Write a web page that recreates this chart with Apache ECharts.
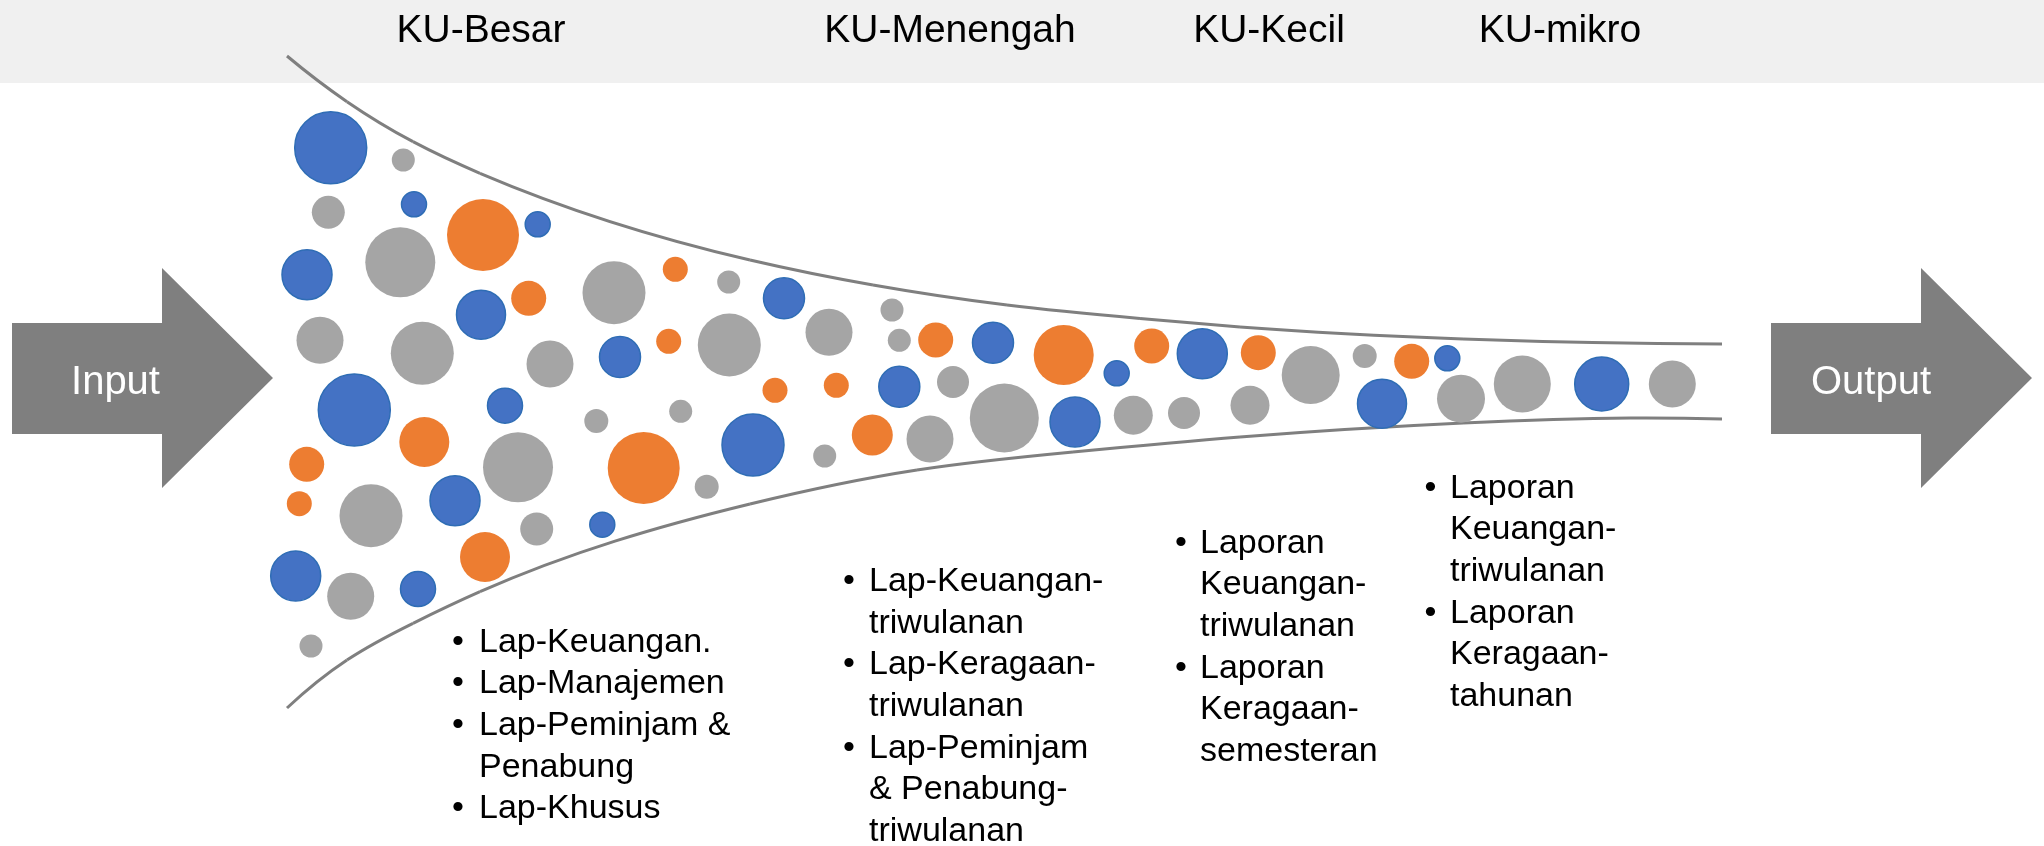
<!DOCTYPE html>
<html>
<head>
<meta charset="utf-8">
<script src="https://cdn.jsdelivr.net/npm/echarts@6/dist/echarts.min.js"></script>
<style>
html,body{margin:0;padding:0;background:#fff;}
#chart{width:2044px;height:846px;}
</style>
</head>
<body>
<div id="chart"></div>
<script>
// ---- data (x, y, diameter) ----
const blueBubbles = [
  [330.7,147.7,72],[414,204.3,25],[537.7,224.3,25],[307,274.7,50],[784,298.3,41],
  [481,314.7,49],[620,357,41],[993,342.7,41],[1116.7,373.3,25],[1202.3,353.7,50],
  [1447.3,358.3,25],[354.3,410,72],[505,405.7,35],[899.3,386.7,41],[753,445,62],
  [1075,422,50],[1382,403.7,49],[1601.7,384,54],[455,500.7,50],[602.3,524.7,25],
  [295.7,576,50],[418,589,35]
];
const orangeBubbles = [
  [483,235,72],[675.3,269.3,25],[528.7,298.3,35],[668.7,341.3,25],[935.7,340,35],
  [1063.7,355,60],[1151.7,346,35],[1258.3,352.7,35],[1411.7,361.3,35],[775,390.3,25],
  [836.3,385.3,25],[424.3,442,50],[643.7,468,72],[872.3,435,41],[306.7,464.3,35],
  [299.3,503.7,25],[485,557,50]
];
const grayBubbles = [
  [403.3,160,23],[328.3,212.3,33],[400.3,262.3,70],[614,292.7,63],[728.7,282,23],
  [320,340.3,47],[422.3,353.3,63],[550,364,47],[729.3,345,63],[829,332.3,47],
  [892,310,23],[899.3,340.3,23],[1310.7,375,58],[1364.7,356,24],[953,382,32],
  [596.3,421,24],[680.7,411.3,23],[518,467.3,70],[930,439,47],[1004.3,418,69],
  [1133.3,415.3,39],[1184,413,32],[1250,405.3,39],[1461,398.7,48],[1522.3,384,57],
  [1672.3,384,47],[824.7,456,23],[706.7,486.7,24],[371,515.7,63],[536.7,529,33],
  [350.7,596.3,47],[311,646,23]
];
const upperEdge = [
  [287,56],[347,101.7],[413,141.7],[480,173.3],[750,260],
  [873,285],[1007,305],[1140,318.5],[1240,327],[1463,339],[1722,344]
];
const lowerEdge = [
  [287,708],[347,660],[413,623.3],[480,591.7],[750,504],
  [917,470],[1073,452],[1240,437],[1463,423],[1630,418],[1722,419]
];
const stageLabels = ['KU-Besar','KU-Menengah','KU-Kecil','KU-mikro'];
const inputLabel = 'Input';
const outputLabel = 'Output';
const reportsBesar = [['Lap-Keuangan.'],['Lap-Manajemen'],['Lap-Peminjam &','Penabung'],['Lap-Khusus']];
const reportsMenengah = [['Lap-Keuangan-','triwulanan'],['Lap-Keragaan-','triwulanan'],['Lap-Peminjam','& Penabung-','triwulanan']];
const reportsKecil = [['Laporan','Keuangan-','triwulanan'],['Laporan','Keragaan-','semesteran']];
const reportsMikro = [['Laporan','Keuangan-','triwulanan'],['Laporan','Keragaan-','tahunan']];

// ---- layout ----
const FONT = '"Liberation Sans", Arial, sans-serif';
const graphics = [];
graphics.push({type:'rect', shape:{x:0,y:0,width:2044,height:83}, style:{fill:'#F0F0F0'}, z:0});

const stageX = [481, 950, 1269, 1560];
stageLabels.forEach((t,i)=>{
  graphics.push({type:'text', x:stageX[i], y:31, z:1,
    style:{text:t, fill:'#000', font:'39px '+FONT, textAlign:'center', textVerticalAlign:'middle'}});
});

function arrow(x0, xHead, xTip){
  return {type:'polygon', z:1, shape:{points:[[x0,323],[xHead,323],[xHead,268],[xTip,378],[xHead,488],[xHead,434],[x0,434]]},
    style:{fill:'#7F7F7F'}};
}
graphics.push(arrow(12,162,273));
graphics.push(arrow(1771,1921,2032));
graphics.push({type:'text', x:115.5, y:383, z:2, style:{text:inputLabel, fill:'#fff', font:'40px '+FONT, textAlign:'center', textVerticalAlign:'middle'}});
graphics.push({type:'text', x:1871, y:383, z:2, style:{text:outputLabel, fill:'#fff', font:'40px '+FONT, textAlign:'center', textVerticalAlign:'middle'}});

const LH = 41.67, FS = 34;
function bulletBlock(items, bulletX, textX, firstBaseline){
  let line = 0;
  items.forEach(item=>{
    const yMid0 = firstBaseline + line*LH - 0.25*FS;
    graphics.push({type:'text', x:bulletX, y:yMid0, z:1,
      style:{text:'\u2022', fill:'#000', font:FS+'px '+FONT, textAlign:'center', textVerticalAlign:'middle'}});
    item.forEach(t=>{
      const yMid = firstBaseline + line*LH - 0.25*FS;
      graphics.push({type:'text', x:textX, y:yMid, z:1,
        style:{text:t, fill:'#000', font:FS+'px '+FONT, textAlign:'left', textVerticalAlign:'middle'}});
      line++;
    });
  });
}
bulletBlock(reportsBesar, 458, 479, 650.7);
bulletBlock(reportsMenengah, 849, 869, 590);
bulletBlock(reportsKecil, 1181, 1200, 551.7);
bulletBlock(reportsMikro, 1430.5, 1450, 496.7);

// cubic spline y(x) (parabolic run-out ends) through pixel points -> bezier segments
function splineSegments(pts){
  const n = pts.length, x = pts.map(p=>p[0]), y = pts.map(p=>p[1]);
  const h = []; for (let i=0;i<n-1;i++) h.push(x[i+1]-x[i]);
  const m = n-2, a=[], b=[], c=[], d=[];
  for (let k=0;k<m;k++){
    const i = k+1;
    a.push(h[i-1]); b.push(2*(h[i-1]+h[i])); c.push(h[i]);
    d.push(6*((y[i+1]-y[i])/h[i] - (y[i]-y[i-1])/h[i-1]));
  }
  b[0] += h[0]; a[0] = 0; b[m-1] += h[n-2]; c[m-1] = 0;
  for (let k=1;k<m;k++){ const w=a[k]/b[k-1]; b[k]-=w*c[k-1]; d[k]-=w*d[k-1]; }
  const Mi = new Array(m); Mi[m-1] = d[m-1]/b[m-1];
  for (let k=m-2;k>=0;k--) Mi[k] = (d[k]-c[k]*Mi[k+1])/b[k];
  const M = [Mi[0]].concat(Mi, [Mi[m-1]]);
  const s = [];
  for (let i=0;i<n-1;i++) s.push((y[i+1]-y[i])/h[i] - h[i]*(2*M[i]+M[i+1])/6);
  s.push((y[n-1]-y[n-2])/h[n-2] + h[n-2]*(M[n-2]+2*M[n-1])/6);
  const segs = [];
  for (let i=0;i<n-1;i++){
    const t = h[i]/3;
    segs.push({x1:x[i], y1:y[i], cpx1:x[i]+t, cpy1:y[i]+s[i]*t,
               cpx2:x[i+1]-t, cpy2:y[i+1]-s[i+1]*t, x2:x[i+1], y2:y[i+1]});
  }
  return segs;
}
const edgeSeries = (name, pts) => ({
  type:'custom', name, data:[0], z:2, silent:true, clip:false,
  renderItem: (params, api) => {
    const px = pts.map(p => api.coord(p));
    return {type:'group', children: splineSegments(px).map(sg => ({
      type:'bezierCurve', shape:sg, style:{stroke:'#7F7F7F', lineWidth:3, fill:null}
    }))};
  }
});

const chart = echarts.init(document.getElementById('chart'), null, {renderer:'canvas'});
const bubble = (name, data, color, border) => ({
  type:'scatter', name, data, z:3,
  symbolSize: v => v[2],
  itemStyle:{color, opacity:1, borderColor: border || color, borderWidth: border ? 1.5 : 0},
  emphasis:{disabled:true}, silent:true
});
chart.setOption({
  animation:false,
  backgroundColor:'#fff',
  grid:{left:0,right:0,top:0,bottom:0,containLabel:false},
  xAxis:{type:'value', min:0, max:2044, show:false},
  yAxis:{type:'value', min:0, max:846, inverse:true, show:false},
  tooltip:{show:false},
  graphic: graphics,
  series:[
    edgeSeries('upper', upperEdge),
    edgeSeries('lower', lowerEdge),
    bubble('gray', grayBubbles, '#A5A5A5'),
    bubble('orange', orangeBubbles, '#ED7D31'),
    bubble('blue', blueBubbles, '#4472C4', '#2F6DB5')
  ]
});
</script>
</body>
</html>
